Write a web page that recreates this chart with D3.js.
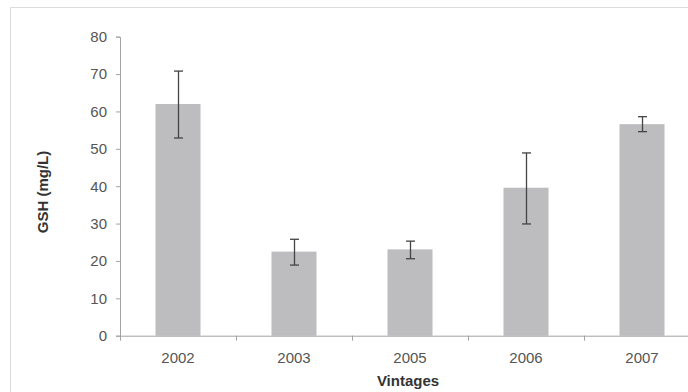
<!DOCTYPE html>
<html>
<head>
<meta charset="utf-8">
<script src="https://cdn.jsdelivr.net/npm/d3@7"></script>
<style>
  html, body { margin: 0; padding: 0; background: #fff; }
  svg { display: block; }
  text { font-family: "Liberation Sans", Arial, sans-serif; }
</style>
</head>
<body>
<svg id="chart" width="688" height="392"></svg>
<script>
// GSH concentration by vintage, mean with error range
const vintages = ["2002", "2003", "2005", "2006", "2007"];
const gshMean  = [62.0, 22.5, 23.1, 39.6, 56.6];
const gshLow   = [52.9, 18.9, 20.6, 29.9, 54.6];
const gshHigh  = [70.8, 25.8, 25.3, 48.9, 58.6];
const yTicks   = [0, 10, 20, 30, 40, 50, 60, 70, 80];

const svg = d3.select("#chart");

const plot = { left: 120, right: 700, top: 36.7, bottom: 335.7 };

const x = d3.scaleBand()
  .domain(vintages)
  .range([plot.left, plot.right])
  .paddingInner(0.612)
  .paddingOuter(0.306);

const y = d3.scaleLinear()
  .domain([0, 80])
  .range([plot.bottom, plot.top]);

const axisColor = "#a3a3a3";
const labelColor = "#555";

// outer frame
svg.append("path")
  .attr("d", `M10.5,392 V7.5 H688`)
  .attr("fill", "none")
  .attr("stroke", "#dcdcdc")
  .attr("stroke-width", 1);

// bars
svg.append("g").selectAll("rect")
  .data(vintages)
  .join("rect")
  .attr("x", d => x(d))
  .attr("width", x.bandwidth())
  .attr("y", (d, i) => y(gshMean[i]))
  .attr("height", (d, i) => y(0) - y(gshMean[i]))
  .attr("fill", "#bdbdbf");

// error bars
const err = svg.append("g")
  .attr("stroke", "#444")
  .attr("stroke-width", 1.3)
  .attr("fill", "none");
vintages.forEach((d, i) => {
  const cx = Math.round(x(d) + x.bandwidth() / 2) + 0.5;
  const capW = 4.5;
  err.append("line").attr("x1", cx).attr("x2", cx)
    .attr("y1", y(gshHigh[i])).attr("y2", y(gshLow[i]));
  err.append("line").attr("x1", cx - capW).attr("x2", cx + capW)
    .attr("y1", y(gshHigh[i])).attr("y2", y(gshHigh[i]));
  err.append("line").attr("x1", cx - capW).attr("x2", cx + capW)
    .attr("y1", y(gshLow[i])).attr("y2", y(gshLow[i]));
});

// y axis
const yAxis = svg.append("g")
  .attr("transform", `translate(${plot.left},0)`)
  .call(d3.axisLeft(y).tickValues(yTicks).tickSize(4).tickPadding(9));
yAxis.select(".domain").attr("stroke", axisColor);
yAxis.selectAll(".tick line").attr("stroke", axisColor);
yAxis.selectAll(".tick text")
  .attr("fill", labelColor)
  .style("font-size", "15px")
  .style("font-family", "'Liberation Sans', Arial, sans-serif");

// x axis: baseline with ticks on category boundaries
const xAxis = svg.append("g")
  .attr("transform", `translate(0,${plot.bottom})`)
  .call(d3.axisBottom(x).tickSize(0).tickPadding(17));
xAxis.select(".domain").attr("stroke", axisColor);
xAxis.selectAll(".tick text")
  .attr("fill", labelColor)
  .style("font-size", "15px")
  .style("font-family", "'Liberation Sans', Arial, sans-serif");

const boundaries = d3.range(vintages.length).map(i => plot.left + i * x.step());
xAxis.selectAll(".boundary")
  .data(boundaries)
  .join("line")
  .attr("class", "boundary")
  .attr("x1", d => Math.round(d) + 0.5)
  .attr("x2", d => Math.round(d) + 0.5)
  .attr("y1", 0).attr("y2", 5)
  .attr("stroke", axisColor);

// axis titles
svg.append("text")
  .attr("x", (plot.left + plot.right) / 2 - 2)
  .attr("y", 386)
  .attr("text-anchor", "middle")
  .attr("fill", "#333")
  .style("font-size", "15px")
  .style("font-weight", "bold")
  .text("Vintages");

svg.append("text")
  .attr("transform", `translate(48,192) rotate(-90)`)
  .attr("text-anchor", "middle")
  .attr("fill", "#333")
  .style("font-size", "15px")
  .style("font-weight", "bold")
  .text("GSH (mg/L)");
</script>
</body>
</html>
